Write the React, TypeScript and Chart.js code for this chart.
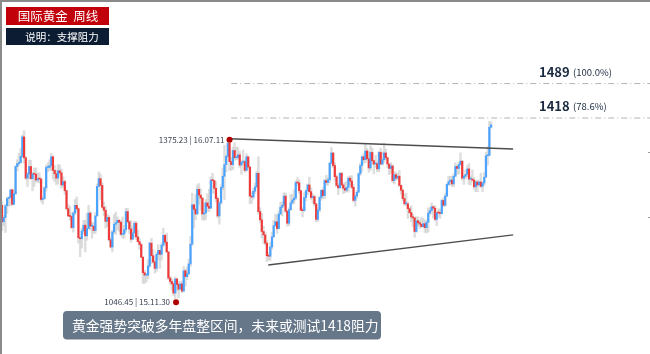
import React, { useEffect, useRef } from "react";
import { Chart, registerables } from "chart.js";

Chart.register(...registerables);

// Weekly gold candles, Dec 2013 – Jun 2019 (open = previous week's close)
const firstOpen = 1238;
const closes = [
  1204, 1213, 1237, 1252, 1254, 1270, 1240, 1262, 1318, 1324, 1326, 1339, 1379, 1336, 1294, 1303, 1318, 1293, 1303, 1302,
  1290, 1293, 1292, 1250, 1252, 1274, 1316, 1316, 1320, 1338, 1310, 1303, 1294, 1309, 1305, 1280, 1287, 1268, 1231, 1216,
  1215, 1192, 1222, 1238, 1231, 1171, 1169, 1185, 1197, 1175, 1190, 1222, 1195, 1195, 1186, 1216, 1277, 1293, 1279, 1234,
  1228, 1205, 1213, 1167, 1152, 1183, 1199, 1202, 1207, 1203, 1178, 1179, 1188, 1225, 1204, 1189, 1168, 1181, 1201, 1173,
  1163, 1157, 1131, 1099, 1094, 1094, 1113, 1160, 1134, 1121, 1108, 1137, 1145, 1137, 1156, 1176, 1162, 1142, 1088, 1081,
  1076, 1057, 1086, 1075, 1065, 1076, 1061, 1103, 1091, 1097, 1117, 1158, 1239, 1230, 1220, 1271, 1259, 1253, 1220, 1222,
  1243, 1236, 1232, 1290, 1289, 1273, 1252, 1216, 1243, 1275, 1298, 1322, 1339, 1366, 1328, 1322, 1351, 1336, 1336, 1342,
  1321, 1327, 1328, 1310, 1338, 1317, 1257, 1255, 1267, 1276, 1304, 1225, 1208, 1184, 1177, 1160, 1134, 1133, 1152, 1173,
  1196, 1204, 1190, 1220, 1234, 1238, 1257, 1226, 1201, 1229, 1243, 1249, 1253, 1285, 1284, 1268, 1228, 1227, 1254, 1268,
  1280, 1266, 1254, 1256, 1241, 1209, 1228, 1254, 1269, 1258, 1289, 1285, 1291, 1325, 1346, 1320, 1297, 1279, 1274, 1304,
  1280, 1273, 1269, 1275, 1294, 1288, 1275, 1248, 1257, 1265, 1303, 1320, 1338, 1332, 1350, 1334, 1315, 1347, 1330, 1323,
  1324, 1313, 1347, 1323, 1332, 1346, 1336, 1323, 1314, 1319, 1289, 1301, 1294, 1298, 1279, 1269, 1252, 1241, 1241, 1231,
  1223, 1214, 1212, 1184, 1206, 1202, 1199, 1194, 1200, 1192, 1203, 1222, 1227, 1235, 1232, 1209, 1223, 1222, 1221, 1248,
  1238, 1257, 1281, 1287, 1290, 1282, 1298, 1318, 1314, 1322, 1329, 1294, 1298, 1302, 1313, 1292, 1292, 1290, 1276, 1286,
  1280, 1286, 1277, 1284, 1296, 1340, 1341, 1399, 1404,
];
const highs = [
  1245, 1217, 1240, 1255, 1256, 1270, 1272, 1268, 1320, 1332, 1345, 1355, 1383, 1392, 1338, 1306, 1331, 1331, 1306, 1315,
  1315, 1305, 1305, 1295, 1256, 1277, 1321, 1326, 1332, 1345, 1340, 1320, 1311, 1322, 1321, 1313, 1297, 1290, 1270, 1240,
  1236, 1223, 1225, 1250, 1255, 1233, 1173, 1191, 1207, 1207, 1221, 1238, 1225, 1203, 1202, 1223, 1282, 1307, 1303, 1285,
  1245, 1236, 1220, 1217, 1172, 1187, 1219, 1224, 1214, 1209, 1205, 1214, 1197, 1232, 1232, 1207, 1206, 1195, 1205, 1205,
  1187, 1170, 1160, 1132, 1104, 1097, 1126, 1162, 1170, 1147, 1125, 1142, 1157, 1141, 1160, 1191, 1178, 1180, 1142, 1092,
  1087, 1081, 1090, 1088, 1081, 1080, 1082, 1112, 1106, 1111, 1127, 1174, 1263, 1240, 1261, 1280, 1283, 1272, 1254, 1243,
  1250, 1262, 1271, 1297, 1304, 1285, 1287, 1256, 1247, 1280, 1315, 1362, 1342, 1372, 1367, 1336, 1358, 1367, 1358, 1357,
  1349, 1330, 1352, 1331, 1344, 1338, 1318, 1266, 1273, 1284, 1308, 1338, 1233, 1221, 1195, 1182, 1165, 1140, 1162, 1182,
  1207, 1220, 1218, 1226, 1244, 1245, 1264, 1263, 1227, 1233, 1261, 1260, 1270, 1289, 1295, 1290, 1268, 1234, 1264, 1270,
  1282, 1296, 1274, 1261, 1259, 1242, 1233, 1257, 1270, 1274, 1292, 1300, 1295, 1326, 1357, 1338, 1326, 1301, 1283, 1306,
  1306, 1284, 1285, 1288, 1297, 1299, 1299, 1281, 1260, 1268, 1305, 1325, 1340, 1344, 1366, 1355, 1349, 1361, 1356, 1325,
  1341, 1329, 1349, 1356, 1348, 1366, 1354, 1338, 1322, 1326, 1322, 1307, 1306, 1304, 1310, 1280, 1272, 1263, 1262, 1245,
  1235, 1237, 1220, 1214, 1214, 1214, 1207, 1213, 1211, 1207, 1208, 1233, 1233, 1243, 1237, 1237, 1225, 1231, 1230, 1250,
  1254, 1262, 1283, 1298, 1298, 1298, 1303, 1326, 1320, 1327, 1346, 1330, 1300, 1311, 1320, 1324, 1298, 1311, 1295, 1289,
  1290, 1289, 1304, 1287, 1306, 1347, 1359, 1411, 1410,
];
const lows = [
  1186, 1196, 1182, 1221, 1236, 1237, 1238, 1240, 1260, 1309, 1320, 1325, 1336, 1325, 1291, 1277, 1293, 1291, 1268, 1277,
  1286, 1285, 1284, 1245, 1240, 1250, 1267, 1307, 1310, 1310, 1292, 1287, 1280, 1282, 1300, 1273, 1275, 1260, 1228, 1215,
  1207, 1190, 1183, 1218, 1226, 1160, 1132, 1150, 1180, 1142, 1166, 1192, 1187, 1170, 1180, 1180, 1216, 1276, 1250, 1232,
  1216, 1191, 1194, 1164, 1150, 1142, 1180, 1178, 1187, 1184, 1175, 1170, 1170, 1183, 1201, 1180, 1162, 1170, 1172, 1168,
  1162, 1147, 1130, 1077, 1077, 1080, 1087, 1110, 1118, 1119, 1098, 1102, 1125, 1108, 1125, 1153, 1156, 1140, 1085, 1075,
  1063, 1052, 1046, 1062, 1047, 1066, 1058, 1061, 1071, 1085, 1095, 1112, 1155, 1191, 1208, 1220, 1240, 1228, 1208, 1207,
  1209, 1225, 1225, 1232, 1263, 1262, 1245, 1212, 1199, 1240, 1270, 1250, 1307, 1337, 1310, 1310, 1312, 1331, 1332, 1332,
  1316, 1302, 1323, 1306, 1309, 1313, 1241, 1242, 1251, 1262, 1274, 1220, 1202, 1171, 1159, 1156, 1122, 1125, 1124, 1147,
  1172, 1195, 1180, 1189, 1219, 1216, 1234, 1223, 1195, 1196, 1228, 1240, 1241, 1250, 1278, 1262, 1226, 1214, 1226, 1247,
  1260, 1265, 1250, 1242, 1236, 1204, 1205, 1224, 1248, 1252, 1252, 1279, 1279, 1285, 1322, 1315, 1288, 1276, 1260, 1273,
  1275, 1262, 1264, 1266, 1265, 1280, 1272, 1245, 1236, 1252, 1267, 1299, 1307, 1325, 1326, 1331, 1306, 1310, 1322, 1303,
  1316, 1307, 1307, 1322, 1321, 1326, 1332, 1316, 1301, 1304, 1285, 1282, 1291, 1290, 1276, 1261, 1247, 1238, 1237, 1211,
  1221, 1204, 1194, 1172, 1182, 1194, 1190, 1193, 1193, 1182, 1181, 1183, 1218, 1221, 1212, 1206, 1196, 1214, 1211, 1220,
  1235, 1236, 1256, 1279, 1279, 1277, 1276, 1297, 1302, 1302, 1320, 1290, 1281, 1292, 1297, 1281, 1280, 1287, 1271, 1266,
  1266, 1280, 1274, 1266, 1279, 1296, 1321, 1340, 1397,
];

// Fibonacci resistance levels
const fibValues = [1418, 1489];
const fibNames = ["1418", "1489"];
const fibPercents = ["(78.6%)", "(100.0%)"];
const fibStartIndex = 135;

// Marked extremes
const peakValue = 1375.23;
const peakIndex = 134;
const peakText = "1375.23 | 16.07.11";
const troughValue = 1046.45;
const troughIndex = 102.5;
const troughText = "1046.45 | 15.11.30";

// Triangle trend lines (index, price)
const upperTrend = [
  { x: 134, y: 1375.23 },
  { x: 301, y: 1354 },
];
const lowerTrend = [
  { x: 156.8, y: 1115 },
  { x: 301, y: 1177 },
];

const titleText = "国际黄金  周线";
const subtitleText = "说明：支撑阻力";
const captionText = "黄金强势突破多年盘整区间，未来或测试1418阻力";

const FONT = '"Noto Sans CJK SC", "Noto Sans", sans-serif';

export default function App() {
  const canvasRef = useRef<HTMLCanvasElement | null>(null);

  useEffect(() => {
    document.body.style.margin = "0";
    const canvas = canvasRef.current;
    if (!canvas) return;

    const opens = closes.map((_, i) => (i === 0 ? firstOpen : closes[i - 1]));
    const wickData = closes.map((c, i) => ({
      x: i,
      y: [Math.min(lows[i], opens[i], c), Math.max(highs[i], opens[i], c)],
    }));
    const bodyData = closes.map((c, i) => ({ x: i, y: [opens[i], c] }));
    const bodyColors = closes.map((c, i) => (c >= opens[i] ? "#4aa3ff" : "#f03a3a"));

    const overlay = {
      id: "overlay",
      afterDraw(chart: any) {
        const ctx = chart.ctx as CanvasRenderingContext2D;
        const xs = chart.scales.x;
        const ys = chart.scales.y;
        ctx.save();

        // fib labels
        fibValues.forEach((v, k) => {
          const y = ys.getPixelForValue(v) - 12;
          ctx.fillStyle = "#1b2a40";
          ctx.textBaseline = "middle";
          ctx.textAlign = "left";
          ctx.font = `bold 13px ${FONT}`;
          ctx.fillText(fibNames[k], 539, y);
          ctx.font = `9.5px ${FONT}`;
          ctx.fillText(fibPercents[k], 573, y + 0.5);
        });

        // extreme markers
        const px = xs.getPixelForValue(peakIndex);
        const py = ys.getPixelForValue(peakValue) + 1;
        const tx = xs.getPixelForValue(troughIndex);
        const ty = ys.getPixelForValue(troughValue) + 4;
        ctx.fillStyle = "#b00000";
        ctx.beginPath();
        ctx.arc(px, py, 3, 0, Math.PI * 2);
        ctx.fill();
        ctx.beginPath();
        ctx.arc(tx, ty, 3, 0, Math.PI * 2);
        ctx.fill();
        ctx.fillStyle = "#3a4150";
        ctx.font = `8px ${FONT}`;
        ctx.textAlign = "right";
        ctx.textBaseline = "middle";
        ctx.fillText(peakText, px - 5, py);
        ctx.fillText(troughText, tx - 6, ty);

        // title boxes
        ctx.fillStyle = "#c1000b";
        ctx.fillRect(6, 7, 103, 18);
        ctx.fillStyle = "#0c1d33";
        ctx.fillRect(6, 28, 103, 17);
        ctx.fillStyle = "#ffffff";
        ctx.textAlign = "center";
        ctx.font = `12.5px ${FONT}`;
        ctx.fillText(titleText, 58, 16.5);
        ctx.font = `10.5px ${FONT}`;
        ctx.fillText(subtitleText, 62, 37);

        // caption box
        ctx.fillStyle = "#66778a";
        ctx.beginPath();
        (ctx as any).roundRect(63, 311, 318, 28.5, 4);
        ctx.fill();
        ctx.fillStyle = "#ffffff";
        ctx.textAlign = "left";
        ctx.font = `13.8px ${FONT}`;
        ctx.fillText(captionText, 72, 325.5);

        // frame and edge ticks
        ctx.fillStyle = "#8a8a8a";
        ctx.fillRect(0, 0, 650, 2);
        ctx.fillRect(0, 0, 2, 354);
        ctx.fillStyle = "#9a9a9a";
        ctx.fillRect(648, 152, 2, 1);
        ctx.fillRect(648, 217, 2, 1);
        ctx.restore();
      },
    };

    const fibDatasets = fibValues.map((v) => ({
      type: "line" as const,
      data: [
        { x: fibStartIndex, y: v },
        { x: 381.6, y: v },
      ],
      borderColor: "#b4b4b4",
      borderWidth: 1,
      borderDash: [6, 3, 1, 3],
      pointRadius: 0,
      order: 0,
    }));

    const chart = new Chart(canvas, {
      type: "bar",
      data: {
        datasets: [
          {
            type: "line",
            data: upperTrend,
            borderColor: "#4d4d4d",
            borderWidth: 1.4,
            pointRadius: 0,
            order: 0,
          },
          {
            type: "line",
            data: lowerTrend,
            borderColor: "#4d4d4d",
            borderWidth: 1.4,
            pointRadius: 0,
            order: 0,
          },
          ...fibDatasets,
          {
            type: "bar",
            data: wickData as any,
            backgroundColor: "rgba(200,200,200,0.6)",
            borderWidth: 0,
            barThickness: 1.8,
            grouped: false,
            order: 3,
          } as any,
          {
            type: "bar",
            data: bodyData as any,
            backgroundColor: bodyColors,
            borderWidth: 0,
            barThickness: 1.5,
            minBarLength: 1,
            grouped: false,
            order: 2,
          } as any,
        ],
      },
      options: {
        responsive: false,
        animation: false,
        devicePixelRatio: 1,
        layout: { padding: 0 },
        plugins: {
          legend: { display: false },
          tooltip: { enabled: false },
          title: { display: false },
        },
        scales: {
          x: { type: "linear", min: -1.18, max: 381.6, display: false, offset: false },
          y: { type: "linear", min: 931.4, max: 1661.3, display: false },
        },
      },
      plugins: [overlay],
    });

    return () => chart.destroy();
  }, []);

  return (
    <div style={{ position: "absolute", left: 0, top: 0, width: 650, height: 354, background: "#fff" }}>
      <canvas ref={canvasRef} width={650} height={354} style={{ display: "block" }} />
    </div>
  );
}
